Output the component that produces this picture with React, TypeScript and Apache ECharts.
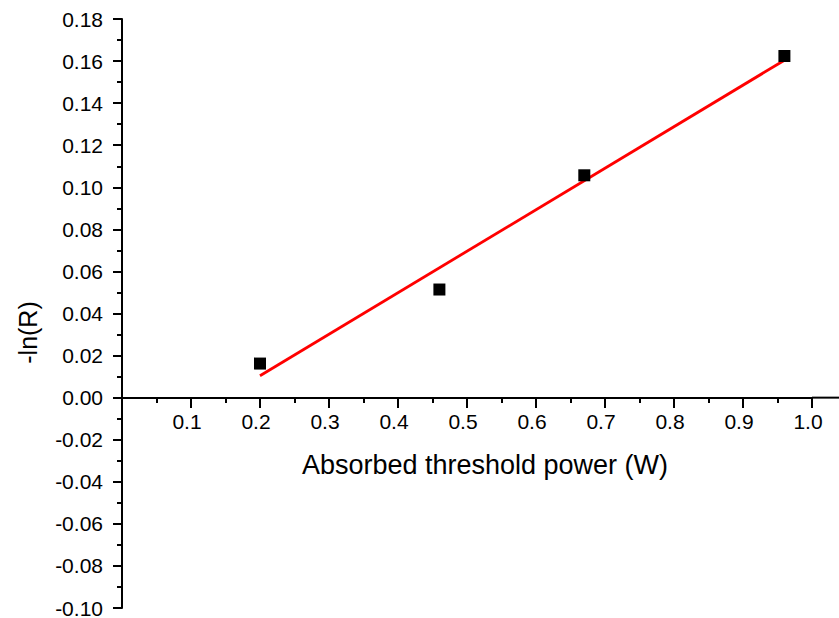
import React, { useEffect, useRef } from "react";
import * as echarts from "echarts";

const xTicks = [0.1, 0.2, 0.3, 0.4, 0.5, 0.6, 0.7, 0.8, 0.9, 1.0];
const measuredX = [0.2, 0.46, 0.67, 0.96];
const measuredY = [0.0162, 0.0514, 0.1057, 0.1624];
const fitX = [0.2, 0.96];
const fitY = [0.0104, 0.1604];

export default function App() {
  const ref = useRef<HTMLDivElement>(null);
  useEffect(() => {
    if (!ref.current) return;
    const chart = echarts.init(ref.current, null, { renderer: "svg" });
    const font = "Liberation Sans, Arial, sans-serif";
    chart.setOption({
      animation: false,
      backgroundColor: "#fff",
      grid: { left: 122, right: 27, top: 19, bottom: 10, containLabel: false, outerBoundsMode: "none" },
      xAxis: {
        type: "value",
        min: 0,
        max: 1.0,
        interval: 0.1,
        offset: -210,
        name: "Absorbed threshold power (W)",
        nameLocation: "middle",
        nameGap: 53,
        nameTextStyle: { fontSize: 27, color: "#000", fontFamily: font, padding: [0, 0, 0, 36] },
        axisLine: { onZero: false, lineStyle: { color: "#000", width: 2 } },
        axisTick: { show: true, length: 10, lineStyle: { color: "#000", width: 2 } },
        minorTick: { show: true, splitNumber: 2, length: 5, lineStyle: { color: "#000", width: 2 } },
        axisLabel: {
          showMinLabel: false,
          fontSize: 21,
          color: "#000",
          fontFamily: font,
          margin: 13,
          padding: [0, 8, 0, 0],
          formatter: (v: number) => (xTicks.some((t) => Math.abs(t - v) < 1e-9) ? v.toFixed(1) : ""),
        },
        splitLine: { show: false },
      },
      yAxis: {
        type: "value",
        min: -0.1,
        max: 0.18,
        interval: 0.02,
        name: "-ln(R)",
        nameLocation: "middle",
        nameGap: 82,
        nameRotate: 90,
        nameTextStyle: { fontSize: 25, color: "#000", fontFamily: font, padding: [0, 38, 0, 0] },
        axisLine: { onZero: false, lineStyle: { color: "#000", width: 2 } },
        axisTick: { show: true, length: 9, lineStyle: { color: "#000", width: 2 } },
        minorTick: { show: true, splitNumber: 2, length: 5, lineStyle: { color: "#000", width: 2 } },
        axisLabel: {
          fontSize: 21,
          color: "#000",
          fontFamily: font,
          margin: 19,
          formatter: (v: number) => v.toFixed(2),
        },
        splitLine: { show: false },
      },
      series: [
        {
          type: "line",
          data: fitX.map((x, i) => [x, fitY[i]]),
          showSymbol: false,
          symbol: "none",
          lineStyle: { color: "#ff0000", width: 2.8 },
          z: 2,
        },
        {
          type: "scatter",
          data: measuredX.map((x, i) => [x, measuredY[i]]),
          symbol: "rect",
          symbolSize: 12,
          itemStyle: { color: "#000", opacity: 1 },
          z: 3,
        },
      ],
    });
    const p = chart.convertToPixel({ xAxisIndex: 0, yAxisIndex: 0 }, [1.0, 0]) as number[];
    chart.setOption({
      graphic: [
        {
          type: "line",
          shape: { x1: p[0], y1: p[1], x2: 839, y2: p[1] },
          style: { stroke: "#000", lineWidth: 2 },
        },
      ],
    });
    return () => chart.dispose();
  }, []);
  return (
    <div
      ref={ref}
      style={{ position: "absolute", left: 0, top: 0, width: 839, height: 618 }}
    />
  );
}
